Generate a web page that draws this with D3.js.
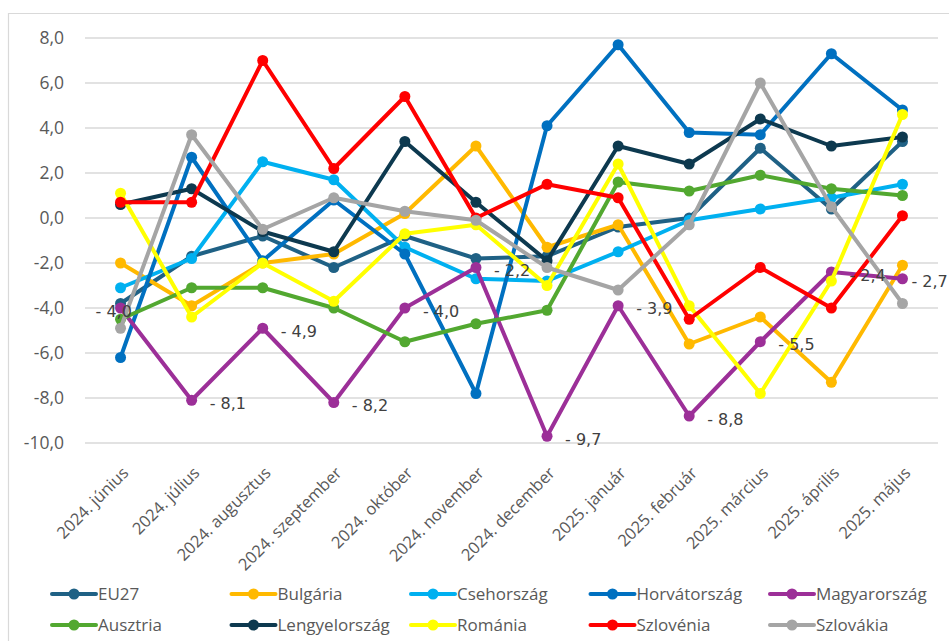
<!DOCTYPE html>
<html><head><meta charset="utf-8">
<script src="https://cdn.jsdelivr.net/npm/d3@7"></script>
<style>
html,body{margin:0;padding:0;background:#fff;}
svg{display:block;}
</style></head>
<body>
<svg id="chart" width="949" height="641"></svg>
<script>
const months = ["2024. június","2024. július","2024. augusztus","2024. szeptember","2024. október","2024. november","2024. december","2025. január","2025. február","2025. március","2025. április","2025. május"];
const yTicks = [-10,-8,-6,-4,-2,0,2,4,6,8];

const eu27        = [-3.8,-1.7,-0.8,-2.2,-0.8,-1.8,-1.7,-0.4, 0.0, 3.1, 0.4, 3.4];
const bulgaria    = [-2.0,-3.9,-2.0,-1.6, 0.2, 3.2,-1.3,-0.3,-5.6,-4.4,-7.3,-2.1];
const csehorszag  = [-3.1,-1.8, 2.5, 1.7,-1.3,-2.7,-2.8,-1.5,-0.1, 0.4, 0.9, 1.5];
const horvatorszag= [-6.2, 2.7,-1.9, 0.8,-1.6,-7.8, 4.1, 7.7, 3.8, 3.7, 7.3, 4.8];
const magyarorszag= [-4.0,-8.1,-4.9,-8.2,-4.0,-2.2,-9.7,-3.9,-8.8,-5.5,-2.4,-2.7];
const ausztria    = [-4.5,-3.1,-3.1,-4.0,-5.5,-4.7,-4.1, 1.6, 1.2, 1.9, 1.3, 1.0];
const lengyel     = [ 0.6, 1.3,-0.6,-1.5, 3.4, 0.7,-1.9, 3.2, 2.4, 4.4, 3.2, 3.6];
const romania     = [ 1.1,-4.4,-2.0,-3.7,-0.7,-0.3,-3.0, 2.4,-3.9,-7.8,-2.8, 4.6];
const szlovenia   = [ 0.7, 0.7, 7.0, 2.2, 5.4, 0.0, 1.5, 0.9,-4.5,-2.2,-4.0, 0.1];
const szlovakia   = [-4.9, 3.7,-0.5, 0.9, 0.3,-0.1,-2.2,-3.2,-0.3, 6.0, 0.5,-3.8];

const seriesNames = ["EU27","Bulgária","Csehország","Horvátország","Magyarország","Ausztria","Lengyelország","Románia","Szlovénia","Szlovákia"];
const seriesValues = [eu27,bulgaria,csehorszag,horvatorszag,magyarorszag,ausztria,lengyel,romania,szlovenia,szlovakia];
const seriesColors = ["#1f6185","#ffb900","#00b0f0","#0070c0","#9c2f98","#52a830","#0d394f","#ffff00","#ff0000","#a5a5a5"];
const labelledSeries = "Magyarország";

const svg = d3.select("#chart");
const W = 949, H = 641;
const FONT = "'Open Sans', Lato, sans-serif";
const x = d3.scaleBand().domain(months).range([85, 938]);
const y = d3.scaleLinear().domain([-10, 8]).range([443, 38]);
const cx = m => x(m) + x.bandwidth()/2;
const fmt = v => d3.format(".1f")(v).replace(".", ",").replace("−","-");

// frame
svg.append("line").attr("x1",8).attr("x2",W).attr("y1",13.5).attr("y2",13.5).attr("stroke","#d9d9d9").attr("stroke-width",1.2);
svg.append("line").attr("x1",8.5).attr("x2",8.5).attr("y1",13).attr("y2",H).attr("stroke","#d9d9d9").attr("stroke-width",1.2);

// grid
svg.append("g").selectAll("line").data(yTicks).join("line")
  .attr("x1",85).attr("x2",938)
  .attr("y1",d=>y(d)).attr("y2",d=>y(d))
  .attr("stroke","#d9d9d9").attr("stroke-width",1.5);

// y labels
svg.append("g").selectAll("text").data(yTicks).join("text")
  .attr("x",64).attr("y",d=>y(d)).attr("dy","0.35em")
  .attr("text-anchor","end")
  .attr("font-family",FONT).attr("font-size",17.5)
  .attr("fill","#595959")
  .text(d=>fmt(d));

// x labels
svg.append("g").selectAll("text").data(months).join("text")
  .attr("transform",d=>`translate(${cx(d)+9},${474}) rotate(-45)`)
  .attr("text-anchor","end")
  .attr("font-family",FONT).attr("font-size",16.5)
  .attr("fill","#595959")
  .text(d=>d);

// lines
const line = d3.line().x((d,i)=>cx(months[i])).y(d=>y(d));
seriesNames.forEach((name, si) => {
  const g = svg.append("g");
  g.append("path").datum(seriesValues[si])
    .attr("d", line).attr("fill","none")
    .attr("stroke", seriesColors[si]).attr("stroke-width",4)
    .attr("stroke-linejoin","round").attr("stroke-linecap","round");
  g.selectAll("circle").data(seriesValues[si]).join("circle")
    .attr("cx",(d,i)=>cx(months[i])).attr("cy",d=>y(d)).attr("r",5.5)
    .attr("fill", seriesColors[si]);
});

// data labels
const mi = seriesNames.indexOf(labelledSeries);
svg.append("g").selectAll("text").data(seriesValues[mi]).join("text")
  .attr("x",(d,i)=> i===0 ? cx(months[i]) - 25 : (i===months.length-1 ? cx(months[i]) + 9 : cx(months[i]) + 18))
  .attr("y",d=>y(d)+3).attr("dy","0.35em")
  .attr("font-family","'DejaVu Sans', sans-serif").attr("font-size",16)
  .attr("fill","#404040")
  .text(d=>"- " + fmt(Math.abs(d)));

// legend
const legend = svg.append("g");
seriesNames.forEach((name, si) => {
  const col = si % 5, row = Math.floor(si/5);
  const lx = 52 + col*179.5, ly = 594 + row*31;
  const g = legend.append("g").attr("transform",`translate(${lx},${ly})`);
  g.append("line").attr("x1",0).attr("x2",44).attr("y1",0).attr("y2",0)
    .attr("stroke",seriesColors[si]).attr("stroke-width",4).attr("stroke-linecap","round");
  g.append("circle").attr("cx",22).attr("cy",0).attr("r",5.5).attr("fill",seriesColors[si]);
  g.append("text").attr("x",46).attr("y",0).attr("dy","0.35em")
    .attr("font-family",FONT).attr("font-size",17)
    .attr("fill","#595959").text(name);
});
</script>
</body></html>
